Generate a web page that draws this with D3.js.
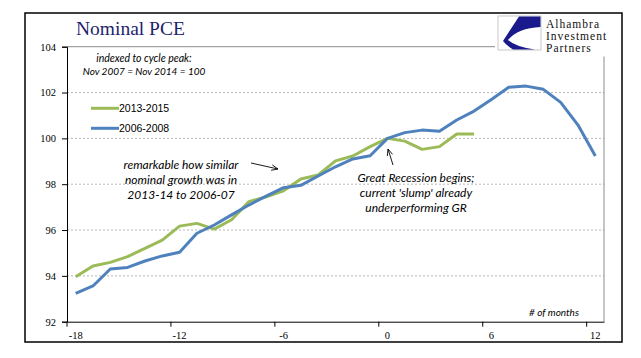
<!DOCTYPE html>
<html>
<head>
<meta charset="utf-8">
<script src="https://cdn.jsdelivr.net/npm/d3@7"></script>
<style>
html,body{margin:0;padding:0;background:#fff;}
svg{display:block;}
</style>
</head>
<body>
<svg id="chart" width="641" height="358"></svg>
<script>
// ---- data ----
const months = [-18,-17,-16,-15,-14,-13,-12,-11,-10,-9,-8,-7,-6,-5,-4,-3,-2,-1,0,1,2,3,4,5,6,7,8,9,10,11,12];
const tickMonths = [-18,-12,-6,0,6,12];
const yTicks = [92,94,96,98,100,102,104];
const gridValues = [94,96,98,100,102];
const seriesNames = ["2013-2015","2006-2008"];
const seriesColors = ["#9BBB59","#4F81BD"];
const green = [93.96,94.43,94.59,94.84,95.20,95.56,96.17,96.29,96.04,96.45,97.24,97.45,97.71,98.23,98.40,99.02,99.23,99.64,100.0,99.88,99.52,99.64,100.19,100.19];
const blue = [93.24,93.56,94.30,94.37,94.65,94.87,95.03,95.86,96.22,96.66,97.09,97.48,97.85,97.95,98.36,98.76,99.10,99.24,100.0,100.25,100.36,100.31,100.80,101.19,101.70,102.23,102.28,102.14,101.57,100.58,99.23];

const svg = d3.select("#chart");
const L = 67, R = 604, T = 46.7, B = 321.7;

const x = d3.scaleBand().domain(months).range([L, R]).padding(0);
const bw = x.bandwidth();
const xc = m => x(m) + bw/2;
const y = d3.scaleLinear().domain([92,104]).range([B, T]);

// outer frame
svg.append("rect").attr("x",25).attr("y",13).attr("width",597).attr("height",329)
  .attr("fill","none").attr("stroke","#000").attr("stroke-width",1.5);

// gridlines
svg.append("g").selectAll("line").data(gridValues).join("line")
  .attr("x1",L).attr("x2",R).attr("y1",d=>y(d)).attr("y2",d=>y(d))
  .attr("stroke","#a6a6a6").attr("stroke-width",0.8).attr("stroke-dasharray","2,2");
// top + right plot border
svg.append("line").attr("x1",L).attr("x2",R).attr("y1",y(104)).attr("y2",y(104))
  .attr("stroke","#8c8c8c").attr("stroke-width",1);
svg.append("line").attr("x1",R).attr("x2",R).attr("y1",y(104)).attr("y2",B)
  .attr("stroke","#8c8c8c").attr("stroke-width",1);

// y axis
const yAxis = svg.append("g").attr("transform",`translate(${L},0)`)
  .call(d3.axisLeft(y).tickValues(yTicks).tickSize(5).tickPadding(6).tickFormat(d3.format("d")));
yAxis.select(".domain").attr("stroke","#000");
yAxis.selectAll("text").attr("font-family","'Liberation Serif', serif").attr("font-size","10.5px").attr("fill","#000");

// x axis
const xAxis = svg.append("g").attr("transform",`translate(0,${B})`)
  .call(d3.axisBottom(x).tickValues(tickMonths).tickSize(5).tickPadding(5).tickSizeOuter(0));
xAxis.select(".domain").attr("stroke","#000");
xAxis.selectAll(".tick line").attr("transform",`translate(${-bw/2},0)`).attr("stroke","#000");
xAxis.selectAll("text").attr("font-family","'Liberation Serif', serif").attr("font-size","10.5px").attr("fill","#000");

// lines
const line = d3.line().x((d,i)=>xc(months[i])).y(d=>y(d));
[green, blue].forEach((s,k)=>{
  svg.append("path").datum(s).attr("d",line).attr("fill","none")
    .attr("stroke",seriesColors[k]).attr("stroke-width",3).attr("stroke-linejoin","round");
});

// legend
seriesNames.forEach((n,k)=>{
  const ly = 108.3 + k*20;
  svg.append("line").attr("x1",91).attr("x2",119).attr("y1",ly).attr("y2",ly)
    .attr("stroke",seriesColors[k]).attr("stroke-width",3);
  svg.append("text").attr("x",119).attr("y",ly+4).text(n)
    .attr("font-family","'Liberation Sans', Arial, sans-serif").attr("font-size","10.5px").attr("fill","#000");
});

// title
svg.append("text").attr("x",76).attr("y",35).text("Nominal PCE")
  .attr("font-family","'Liberation Serif', serif").attr("font-size","19.5px").attr("fill","#1f1f6e");

// logo
const logo = svg.append("g");
logo.append("rect").attr("x",495).attr("y",14.5).attr("width",125).attr("height",42).attr("fill","#fff");
logo.append("rect").attr("x",498).attr("y",16).attr("width",43).attr("height",34).attr("fill","#fff").attr("stroke","#bbb").attr("stroke-width",0.8);
logo.append("path").attr("d","M519,16.5 L540.5,16.5 L540.5,27 Q518,28 508,40 Q516,47 535,49.5 L513,49.5 Q506,45 503,41 Z")
  .attr("fill","#1a1a8c");
["Alhambra","Investment","Partners"].forEach((t,i)=>{
  logo.append("text").attr("x",546).attr("y",27.5+i*12.3).text(t)
    .attr("font-family","'Liberation Serif', serif").attr("font-size","11.5px")
    .attr("letter-spacing","1px").attr("fill","#111");
});

// annotations
const ann = (x0,y0,txt,size,anchor)=>svg.append("text").attr("x",x0).attr("y",y0).text(txt)
  .attr("font-family","Lato, 'Liberation Sans', sans-serif").attr("font-style","italic")
  .attr("font-size",size).attr("text-anchor",anchor||"middle").attr("fill","#000");
ann(144,61.5,"indexed to cycle peak:","10.5px");
ann(144,74.5,"Nov 2007 = Nov 2014 = 100","10px");
ann(181,169,"remarkable how similar","12px");
ann(181,184,"nominal growth was in","12px");
ann(181,199,"2013-14 to 2006-07","12px");
ann(416,182,"Great Recession begins;","12px");
ann(416,197,"current 'slump' already","12px");
ann(416,212,"underperforming GR","12px");
ann(554,315.5,"# of months","10px");

// arrows
const arrow = (x1,y1,x2,y2)=>{
  svg.append("line").attr("x1",x1).attr("y1",y1).attr("x2",x2).attr("y2",y2)
    .attr("stroke","#000").attr("stroke-width",0.9);
  const a = Math.atan2(y2-y1,x2-x1), h=7, s=0.4;
  svg.append("path").attr("d",`M${x2-h*Math.cos(a-s)},${y2-h*Math.sin(a-s)} L${x2},${y2} L${x2-h*Math.cos(a+s)},${y2-h*Math.sin(a+s)}`)
    .attr("fill","none").attr("stroke","#000").attr("stroke-width",0.9);
};
arrow(251,163,278,169);
arrow(393,165,388,149);
</script>
</body>
</html>
